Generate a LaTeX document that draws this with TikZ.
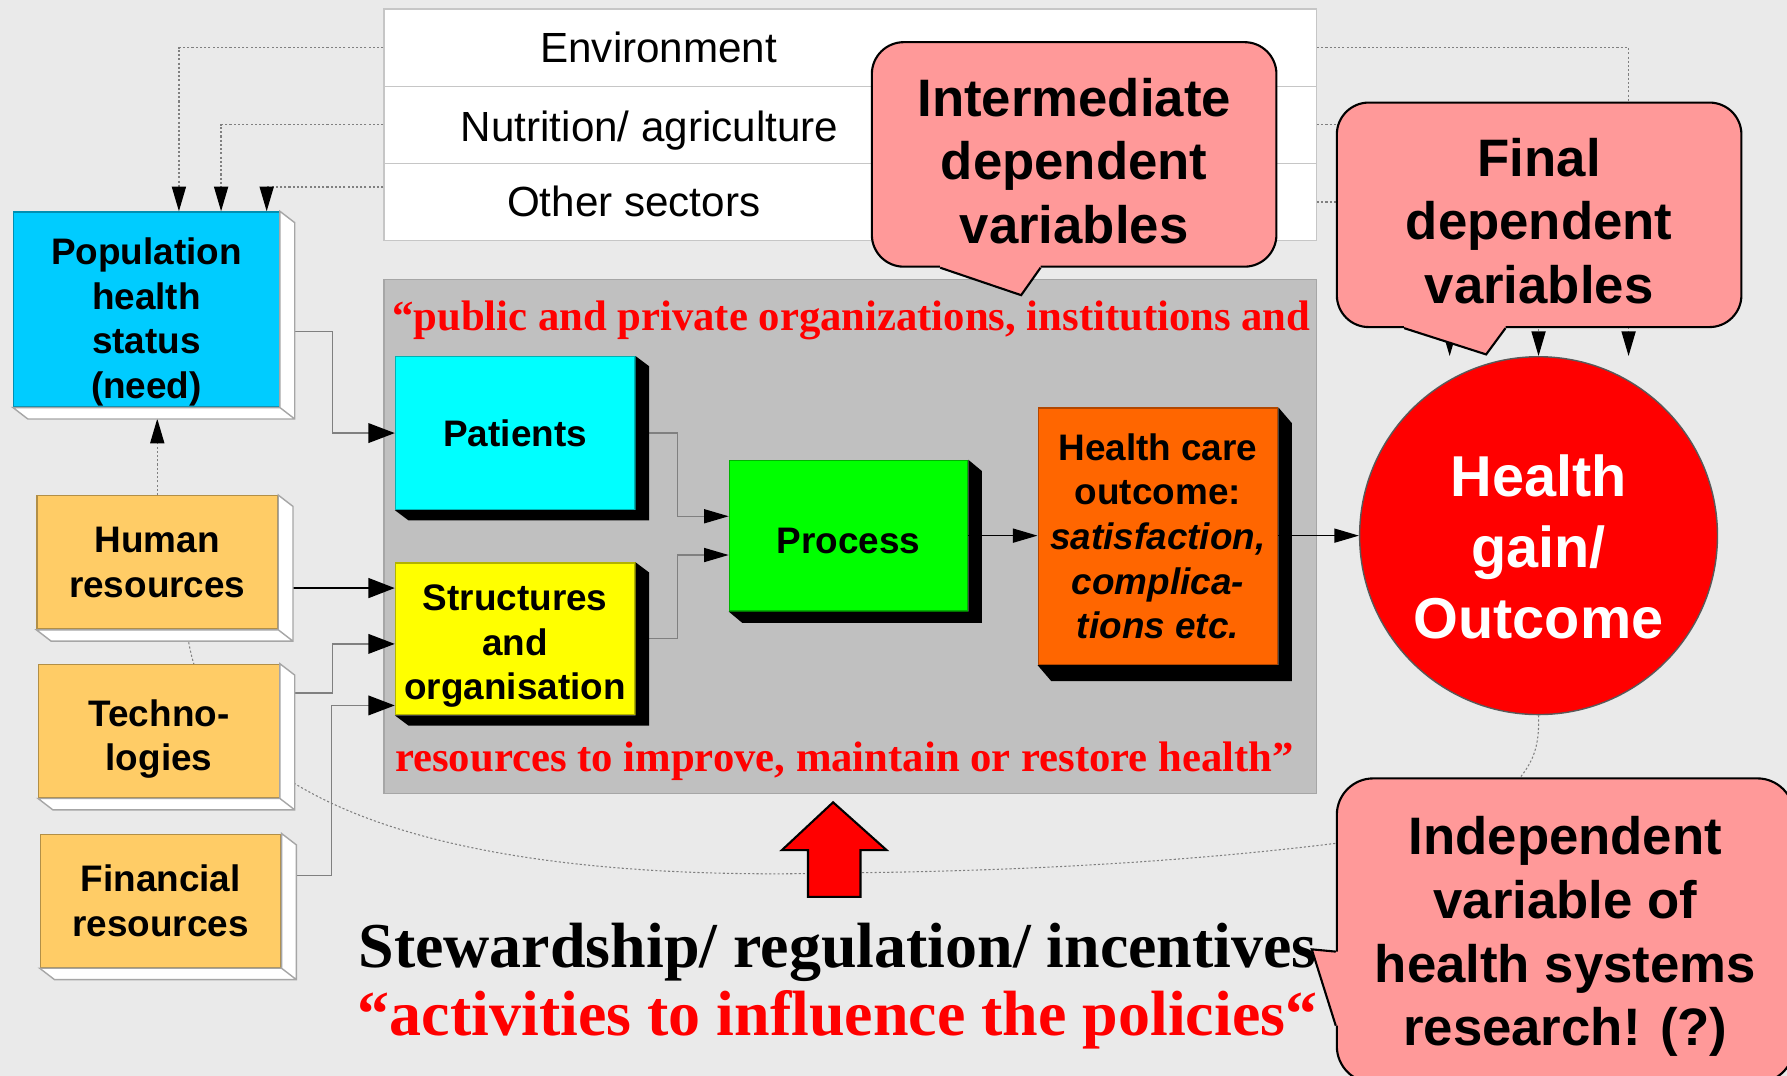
\documentclass[tikz,border=0pt]{standalone}
\usepackage{fontspec}
\setmainfont{Liberation Serif}
\setsansfont{Liberation Sans}
\usetikzlibrary{arrows.meta,backgrounds}
\definecolor{bgray}{RGB}{234,234,234}
\definecolor{sysgray}{RGB}{192,192,192}
\definecolor{popblue}{RGB}{0,204,255}
\definecolor{patcyan}{RGB}{0,255,255}
\definecolor{strucyellow}{RGB}{255,255,0}
\definecolor{procgreen}{RGB}{0,255,0}
\definecolor{outorange}{RGB}{255,102,0}
\definecolor{gainred}{RGB}{255,0,0}
\definecolor{resorange}{RGB}{255,204,102}
\definecolor{notepink}{RGB}{255,153,153}
\definecolor{quotered}{RGB}{255,0,0}

\newlength{\pxu}
\setlength{\pxu}{0.11397mm}

\tikzset{
  sector/.style={draw=gray!45, fill=white, minimum width=818\pxu, minimum height=67.7\pxu, inner sep=0pt},
  sectortext/.style={font=\sffamily\fontsize{12}{14}\selectfont, inner sep=0pt},
  sysbox/.style={draw=gray!70, fill=sysgray, minimum width=818\pxu, minimum height=451\pxu, inner sep=0pt},
  redquote/.style={text=quotered, font=\bfseries\fontsize{12.15}{14}\selectfont, inner sep=0pt},
  boxface/.style={fill=#1, draw=#1!70!black, line width=0.4pt, inner sep=0pt, align=center,
    font=\sffamily\bfseries\fontsize{10.5}{12.7}\selectfont},
  wall/.style={fill=white, draw=gray!70, line width=0.4pt},
  bubble/.style={fill=notepink, draw=black, line width=0.6pt, rounded corners=28\pxu, inner sep=0pt,
    align=center, font=\sffamily\bfseries\fontsize{15}{18.1}\selectfont},
  link/.style={draw=gray, line width=0.4pt, -{Triangle[length=7pt,width=4pt,color=black]}},
  widelink/.style={draw=gray, line width=0.4pt, -{Triangle[length=7.5pt,width=5.6pt,color=black]}},
  fine/.style={dash pattern=on 0.6pt off 0.6pt},
  faint/.style={draw=gray, line width=0.3pt, dash pattern=on 0.6pt off 0.6pt},
}

\begin{document}
\begin{tikzpicture}[x=\pxu, y=-\pxu]
\useasboundingbox (0,0) rectangle (1568,944);

% other sectors
\node[sector] (env) at (746,41.8) {};
\node[sector] (nut) at (746,109.5) {};
\node[sector] (oth) at (746,177.2) {};
\node[sectortext, anchor=base] (envtxt) at (578,55) {Environment};
\node[sectortext, anchor=base] (nuttxt) at (570,124) {Nutrition/ agriculture};
\node[sectortext, anchor=base] (othtxt) at (556,190) {Other sectors};

% health system
\node[sysbox] (sys) at (746,470.5) {};
\node[redquote, anchor=base] (qtop) at (747,290) {“public and private organizations, institutions and};
\node[redquote, anchor=base] (qbot) at (741,677) {resources to improve, maintain or restore health”};

% inputs
\node[boxface=popblue, minimum width=233\pxu, minimum height=171\pxu] (pop) at (128.5,271.5) {\rule{0pt}{14.8pt}Population\\health\\status\\(need)};
\node[boxface=resorange, minimum width=211\pxu, minimum height=117\pxu] (hr) at (138,493.5) {Human\\resources};
\node[boxface=resorange, minimum width=211\pxu, minimum height=117\pxu] (tech) at (139.5,641.5) {\rule{0pt}{12.2pt}Techno-\\logies};
\node[boxface=resorange, minimum width=211\pxu, minimum height=117\pxu] (fin) at (141,790.5) {Financial\\resources};

% care chain
\node[boxface=patcyan, minimum width=210\pxu, minimum height=134\pxu] (pat) at (452,380) {Patients};
\node[boxface=strucyellow, minimum width=210\pxu, minimum height=133\pxu] (struc) at (452,560.5) {\rule{0pt}{11.6pt}Structures\\and\\organisation};
\node[boxface=procgreen, minimum width=209\pxu, minimum height=132\pxu] (proc) at (744.5,470) {\rule{0pt}{10.1pt}Process};
\node[boxface=outorange, minimum width=210\pxu, minimum height=225\pxu] (out) at (1016,470.5) {Health care\\outcome:\\\textit{satisfaction,}\\\textit{complica-}\\\textit{tions etc.}};
\node[circle, fill=gainred, draw=gray!70!black, line width=0.4pt, minimum size=314\pxu, inner sep=0pt,
  text=white, align=center, font=\sffamily\bfseries\fontsize{16.4}{20.2}\selectfont] (gain) at (1350,470) {\rule{0pt}{18.5pt}Health\\gain/\\Outcome};

% connectors
\draw[link, fine] (env.west) -| ([xshift=28.5\pxu]pop.north);
\draw[link, fine] (nut.west) -| ([xshift=65.5\pxu]pop.north);
\draw[link, fine] (oth.west |- 0,164) -| ([xshift=105.5\pxu]pop.north);
\draw[link, fine] (env.east) -| ([xshift=79\pxu]gain.north);
\draw[link, fine] (nut.east) -| (gain.north);
\draw[link, fine] (oth.east) -| ([xshift=-78\pxu]gain.north);
\draw[link, fine] (hr.north) -- ++(0,-67);
\draw[widelink] (pop.east |- 0,291) -- ++(46,0) |- (pat.west);
\draw[widelink, draw=black, line width=0.7pt] (hr.east |- 0,516) -- (struc.west |- 0,516);
\draw[widelink] (tech.east |- 0,608) -- ++(46,0) |- (struc.west |- 0,565);
\draw[widelink] (fin.east |- 0,768) -- ++(44,0) |- (struc.west |- 0,619);
\draw[link] (pat.east) -- ++(37,0) |- (proc.west |- 0,453);
\draw[link] (struc.east) -- ++(37,0) |- (proc.west |- 0,487);
\draw[link, draw=black] (proc.east) -- (proc.east -| out.west);
\draw[link, draw=black] (out.east |- 0,470) -- (gain.west);

% 3d walls
\filldraw[wall] (pop.north east) -- ++(13,10) |- ([shift={(13,10)}]pop.south west) -- (pop.south west) -- (pop.south east) -- cycle (pop.south east) -- ++(13,10);
\filldraw[wall] (hr.north east) -- ++(13,10) |- ([shift={(13,10)}]hr.south west) -- (hr.south west) -- (hr.south east) -- cycle (hr.south east) -- ++(13,10);
\filldraw[wall] (tech.north east) -- ++(13,10) |- ([shift={(13,10)}]tech.south west) -- (tech.south west) -- (tech.south east) -- cycle (tech.south east) -- ++(13,10);
\filldraw[wall] (fin.north east) -- ++(13,10) |- ([shift={(13,10)}]fin.south west) -- (fin.south west) -- (fin.south east) -- cycle (fin.south east) -- ++(13,10);
\fill (pat.north east) -- ++(12,9) |- ([shift={(12,9)}]pat.south west) -- (pat.south west) -- (pat.south east) -- cycle;
\fill (struc.north east) -- ++(12,9) |- ([shift={(12,9)}]struc.south west) -- (struc.south west) -- (struc.south east) -- cycle;
\fill (proc.north east) -- ++(12,10) |- ([shift={(12,10)}]proc.south west) -- (proc.south west) -- (proc.south east) -- cycle;
\fill (out.north east) -- ++(12,14) |- ([shift={(12,14)}]out.south west) -- (out.south west) -- (out.south east) -- cycle;

% callouts
\node[bubble, minimum width=355\pxu, minimum height=197\pxu] (midvar) at (942.5,135.5) {\rule{0pt}{14.6pt}Intermediate\\dependent\\variables};
\fill[notepink] (midvar.south -| 825,0) ++(0,-4) -- (midvar.south -| 825,0) -- (896,259) -- (midvar.south -| 913,0) -- ++(0,-4) -- cycle;
\draw[line width=0.6pt] (midvar.south -| 825,0) -- (896,259) -- (midvar.south -| 913,0);

\node[bubble, minimum width=355\pxu, minimum height=197\pxu] (finvar) at (1350.5,188.5) {\rule{0pt}{14.3pt}Final\\dependent\\variables};
\fill[notepink] (finvar.south -| 1232,0) ++(0,-4) -- (finvar.south -| 1232,0) -- (1304,311) -- (finvar.south -| 1321,0) -- ++(0,-4) -- cycle;
\draw[line width=0.6pt] (finvar.south -| 1232,0) -- (1304,311) -- (finvar.south -| 1321,0);

\node[bubble, minimum width=401\pxu, minimum height=267\pxu, rounded corners=32\pxu] (indvar) at (1373.5,816.5) {\rule{0pt}{14.3pt}Independent\\variable of\\health systems\\research! (?)};
\fill[notepink] (indvar.west |- 0,835) ++(4,0) -- (indvar.west |- 0,835) -- (1151,833) -- (indvar.west |- 0,900) -- ++(4,0) -- cycle;
\draw[line width=0.6pt] (indvar.west |- 0,835) -- (1151,833) -- (indvar.west |- 0,900);

% stewardship
\filldraw[fill=gainred, draw=black, line width=0.6pt] (731,704) -- (778,746) -- (755,746) -- (755,787) -- (709,787) -- (709,746) -- (686,746) -- cycle;
\node[anchor=base, font=\bfseries\fontsize{18.2}{21}\selectfont] (stew) at (735,849) {Stewardship/ regulation/ incentives};
\node[anchor=base, text=quotered, font=\bfseries\fontsize{18.2}{21}\selectfont] (act) at (735,909) {“activities to influence the policies“};

% background and research links
\begin{scope}[on background layer]
\fill[bgray] (0,0) rectangle (1568,944);
\draw[faint] ([xshift=26\pxu]hr.south) .. controls (180,700) and (380,775) .. (735,766) .. controls (950,764) and (1090,750) .. (indvar.west |- 0,740);
\draw[faint] (gain.south) .. controls (1351,655) and (1345,668) .. (indvar.north -| 1334,0);
\end{scope}
\end{tikzpicture}
\end{document}
